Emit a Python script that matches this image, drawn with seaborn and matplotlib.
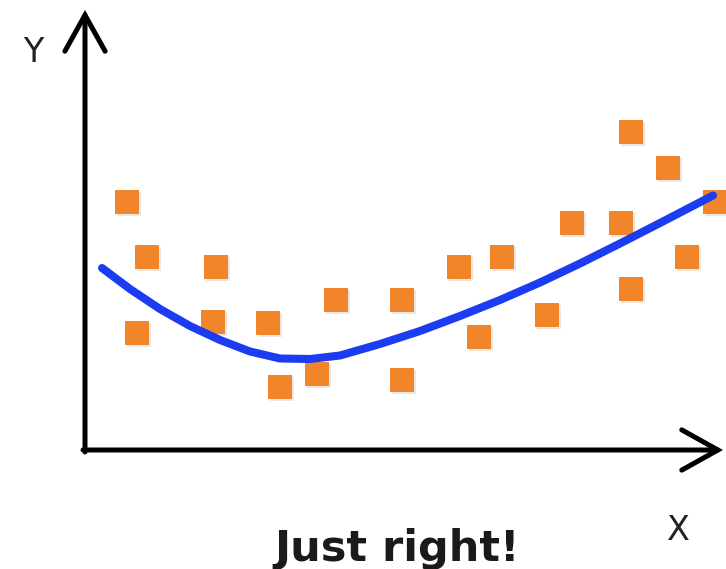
import matplotlib
matplotlib.use("Agg")
import matplotlib.pyplot as plt
import matplotlib.patheffects as pe
import seaborn as sns
import pandas as pd

sns.set_style("white")
plt.rcParams['font.family'] = ['DejaVu Sans']

# scattered observations (x, y in arbitrary units, origin at the axes corner)
obs_x = [4.2, 6.2, 5.2, 13.1, 12.8, 18.3, 19.5, 23.2, 25.1, 31.7, 31.7,
         37.4, 39.4, 41.7, 46.2, 48.7, 53.6, 54.6, 54.6, 58.3, 60.2, 63.0]
obs_y = [24.8, 19.3, 11.7, 18.3, 12.8, 12.7, 6.3, 7.6, 15.0, 15.0, 7.0,
         18.3, 11.3, 19.3, 13.5, 22.7, 22.7, 31.8, 16.1, 28.2, 19.3, 24.8]

# fitted "just right" curve
fit_x = [1.7, 4.5, 7.5, 10.5, 13.5, 16.5, 19.5, 22.5, 25.5, 29.5, 33.5,
         37.5, 41.5, 45.5, 49.5, 53.5, 57.5, 62.8]
fit_y = [18.2, 16.1, 14.1, 12.4, 11.0, 9.85, 9.15, 9.1, 9.45, 10.6, 11.9,
         13.4, 15.0, 16.75, 18.65, 20.65, 22.7, 25.45]

obs = pd.DataFrame({"x": obs_x, "y": obs_y})
fit = pd.DataFrame({"x": fit_x, "y": fit_y})

fig = plt.figure(figsize=(7.26, 5.69), dpi=100)
ax = fig.add_axes([0, 0, 1, 1])
ax.set_xlim(-8.5, 64.1)
ax.set_ylim(-11.9, 45.0)
ax.axis("off")

sns.scatterplot(data=obs, x="x", y="y", marker="s", s=290, color="#f2852a",
                edgecolor="none", ax=ax, zorder=2)
ax.collections[-1].set_path_effects([
    pe.SimplePatchShadow(offset=(1.5, -1.5), alpha=0.18, shadow_rgbFace="gray"),
    pe.Normal()])
sns.lineplot(data=fit, x="x", y="y", color="#1c3cf2", linewidth=5.8, ax=ax,
             zorder=3, sort=True, solid_capstyle="round", solid_joinstyle="round")

# axis arrows
arrow = dict(arrowstyle="->,head_length=2.6,head_width=1.45", color="black",
             lw=3.6, shrinkA=0, shrinkB=0, joinstyle="miter")
ax.annotate("", xy=(0, 44.0), xytext=(0, -0.2), arrowprops=arrow, zorder=4)
ax.annotate("", xy=(63.8, 0), xytext=(-0.2, 0), arrowprops=arrow, zorder=4)

ax.text(-5.2, 39.8, "Y", fontsize=24, ha="center", va="center", color="#222222")
ax.text(59.3, -8.0, "X", fontsize=24, ha="center", va="center", color="#222222")
ax.text(31.2, -9.9, "Just right!", fontsize=31, fontweight="bold",
        ha="center", va="center", color="#1a1a1a")

fig.savefig("out.png", dpi=100)
